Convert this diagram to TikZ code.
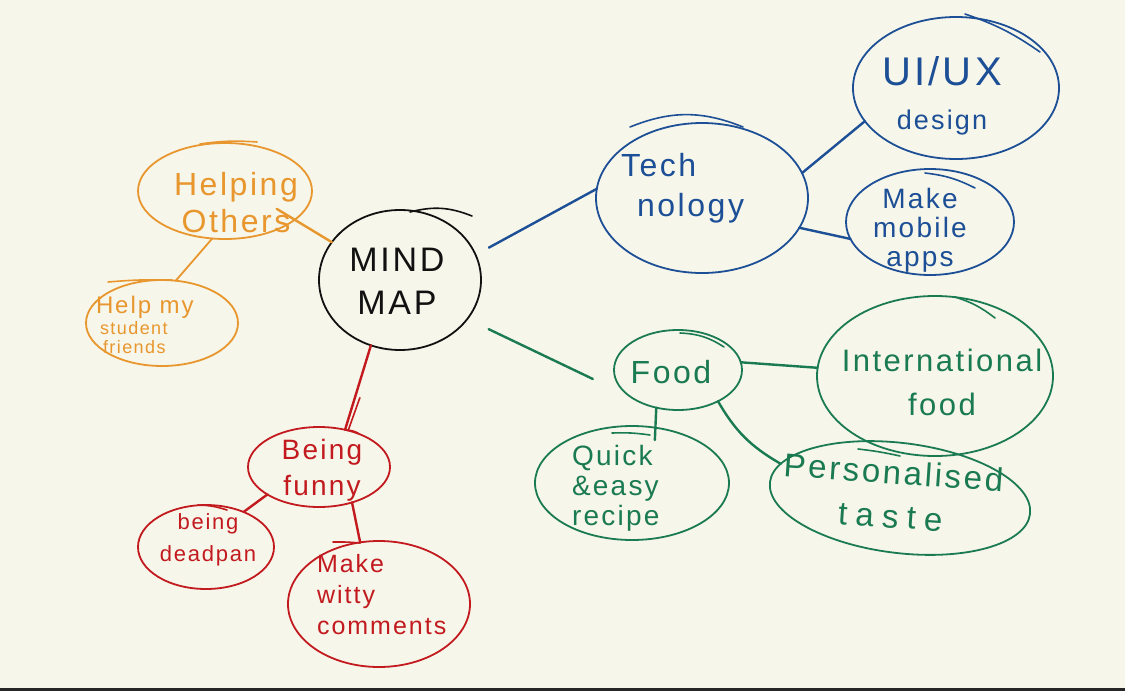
\documentclass[tikz,border=0pt]{standalone}
\usepackage{fontspec}
\setmainfont{Liberation Sans}
\newfontfamily\hand[LetterSpace=8]{Liberation Sans}
\usetikzlibrary{shapes.geometric,calc}
\definecolor{bg}{HTML}{F7F6EA}
\definecolor{cor}{HTML}{E8962E}
\definecolor{cbl}{HTML}{1C4F96}
\definecolor{cgr}{HTML}{1A7A52}
\definecolor{cre}{HTML}{C21A1E}
\definecolor{cbk}{HTML}{111111}
\newcommand\fs[2]{\hand\fontsize{#1}{#2}\selectfont}
\begin{document}
\begin{tikzpicture}[x=1pt,y=-1pt,
  bub/.style={ellipse, draw, line width=1.8pt, inner sep=0pt, outer sep=0pt},
  lbl/.style={inner sep=0pt, outer sep=0pt},
  link/.style={line width=2.4pt, line cap=round},
  accent/.style={line width=1.6pt, line cap=round}]
\useasboundingbox (0,0) rectangle (1125,691);
\fill[bg] (0,0) rectangle (1125,691);
\fill[black!85] (0,688) rectangle (1125,691);

% ---- nodes (bubbles)
\node[bub, cbk, minimum width=162pt, minimum height=140pt] (mind) at (400,280) {};
\node[bub, cor, minimum width=174pt, minimum height=96pt] (help) at (225,191) {};
\node[bub, cor, minimum width=152pt, minimum height=86pt] (helpmy) at (162,323) {};
\node[bub, cbl, minimum width=212pt, minimum height=150pt] (tech) at (702,198) {};
\node[bub, cbl, minimum width=206pt, minimum height=142pt] (uiux) at (956,88) {};
\node[bub, cbl, minimum width=168pt, minimum height=106pt] (mobile) at (930,222) {};
\node[bub, cgr, minimum width=128pt, minimum height=80pt] (food) at (678,370) {};
\node[bub, cgr, minimum width=236pt, minimum height=160pt] (intl) at (935,376) {};
\node[bub, cgr, minimum width=194pt, minimum height=114pt] (quick) at (632,483) {};
\node[bub, cgr, minimum width=262pt, minimum height=110pt, rotate=-7] (pers) at (900,498) {};
\node[bub, cre, minimum width=142pt, minimum height=80pt] (funny) at (319,467) {};
\node[bub, cre, minimum width=136pt, minimum height=84pt] (deadpan) at (206,547) {};
\node[bub, cre, minimum width=182pt, minimum height=126pt] (witty) at (379,604) {};

% ---- texts
\node[lbl, cbk, align=center, font=\fs{34}{43}] (mind-t) at (397,281) {MIND\\MAP};
\node[lbl, cor, align=center, font=\fs{32}{37}] (help-t) at (236,203) {Helping\\Others};
\node[lbl, cor, align=left, anchor=west, font=\fs{18}{19}] (helpmy-t) at (96,325)
  {{\fs{24}{19}Help my}\\[2pt]\hspace{4pt}student\\\hspace{7pt}friends};
\node[lbl, cbl, align=left, anchor=west, font=\fs{32}{40}] (tech-t) at (621,188) {Tech\\\hspace{16pt}nology};
\node[lbl, cbl, align=center, font=\fs{27}{44}] (uiux-t) at (942,96) {{\fs{40}{44}UI/UX}\\design};
\node[lbl, cbl, align=center, font=\fs{28}{29}] (mobile-t) at (920,230) {Make\\mobile\\apps};
\node[lbl, cgr, font=\fs{32}{36}] (food-t) at (671,372) {Food};
\node[lbl, cgr, align=center, font=\fs{31}{44}] (intl-t) at (942,382) {International\\food};
\node[lbl, cgr, align=left, anchor=west, font=\fs{28}{30}] (quick-t) at (572,488) {Quick\\\&easy\\recipe};
\node[lbl, cgr, align=center, rotate=-4, font=\fs{33}{44}] (pers-t) at (892,494) {Personalised\\{\addfontfeatures{LetterSpace=25}taste}};
\node[lbl, cre, align=center, font=\fs{28}{36}] (funny-t) at (322,470) {Being\\funny};
\node[lbl, cre, align=center, font=\fs{22}{32}] (deadpan-t) at (208,540) {being\\deadpan};
\node[lbl, cre, align=left, anchor=west, font=\fs{25}{31}] (witty-t) at (317,595) {Make\\witty\\comments};

% ---- connectors
\draw[link, cor] (mind.151) -- ($(help.center)!0.7!(help.-19)$);
\draw[link, cor, line width=1.8pt] (help.-105) -- (helpmy.72);
\draw[link, cbl] ($(mind.center)!1.19!(mind.20)$) -- (tech.175);
\draw[link, cbl] (tech.14) -- (uiux.200);
\draw[link, cbl] (tech.-17.5) -- (mobile.192);
\draw[link, cgr] ($(mind.center)!1.3!(mind.-29)$) -- ($(food.center)!1.35!(food.186)$);
\draw[link, cgr] (food.7) -- (intl.176);
\draw[link, cgr] (food.-120) -- ($(quick.center)!0.79!(quick.62)$);
\draw[link, cgr] (food.-38) to[bend right=15] (pers.171);
\draw[link, cre] (mind.-114) -- (funny.55);
\draw[link, cre] (funny.-152) -- (deadpan.43);
\draw[link, cre] (funny.-47) -- (witty.107);

% ---- hand-drawn overstrokes
\draw[accent, cre] ($(mind.-114)!0.62!(funny.55)+(5,0)$) -- ($(funny.55)+(3,1)$);
\draw[accent, cor] (200,144) to[bend left=6] (257,142);
\draw[accent, cor] (108,282) to[bend left=3] (172,280);
\draw[accent, cbk] (410,212) to[bend left=18] (472,216);
\draw[accent, cbl] (630,127) to[bend left=22] (743,127);
\draw[accent, cbl] (965,14) to[bend left=8] (1040,52);
\draw[accent, cbl] (925,173) to[bend left=10] (975,188);
\draw[accent, cgr] (680,333) to[bend left=15] (724,347);
\draw[accent, cgr] (955,297) to[bend left=10] (995,318);
\draw[accent, cgr] (612,433) to[bend left=5] (650,435);
\draw[accent, cgr] (858,449) to[bend left=3] (900,456);
\draw[accent, cre] (347,430) to[bend left=10] (358,433);
\draw[accent, cre] (198,505) to[bend left=8] (227,510);
\draw[accent, cre] (333,542) to[bend left=3] (360,543);
\end{tikzpicture}
\end{document}
